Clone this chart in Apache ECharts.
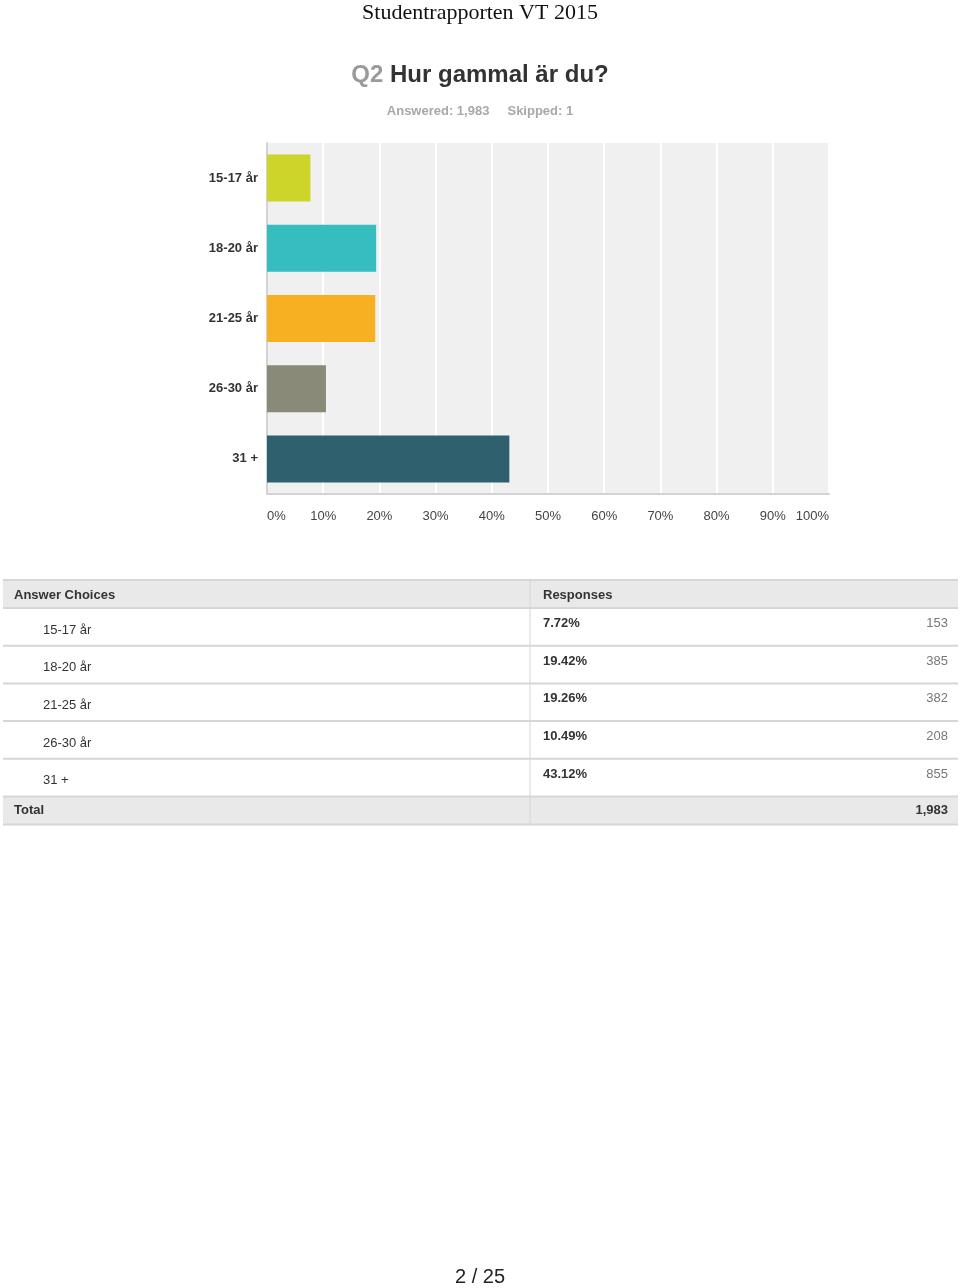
<!DOCTYPE html>
<html>
<head>
<meta charset="utf-8">
<script src="https://cdn.jsdelivr.net/npm/echarts@6/dist/echarts.min.js"></script>
<style>
html,body{margin:0;padding:0;background:#fff;}
#c{width:960px;height:1288px;}
</style>
</head>
<body>
<div id="c"></div>
<script>
const categories = ['15-17 år', '18-20 år', '21-25 år', '26-30 år', '31 +'];
const percents = [7.72, 19.42, 19.26, 10.49, 43.12];
const counts = [153, 385, 382, 208, 855];
const barColors = ['#cdd42a', '#35bdbf', '#f7b022', '#8a8a78', '#2e606e'];
const totalCount = '1,983';
const answered = '1,983';
const skipped = '1';
const xTicks = [0, 10, 20, 30, 40, 50, 60, 70, 80, 90, 100];

const FONT = '"Liberation Sans", Arial, sans-serif';
const chart = echarts.init(document.getElementById('c'));

const graphic = [];
// page header
graphic.push({type:'text', left:'center', top:2, style:{text:'Studentrapporten VT 2015', font:'22px "Liberation Serif", "Times New Roman", serif', fill:'#111'}});
// question title
graphic.push({type:'text', left:'center', top:63, style:{
  text:'{q|Q2}  {t|Hur gammal är du?}',
  rich:{q:{fontSize:24, fontWeight:'bold', fill:'#9a9a9a', fontFamily:FONT}, t:{fontSize:24, fontWeight:'bold', fill:'#333', fontFamily:FONT}}
}});
graphic.push({type:'text', left:'center', top:105, style:{text:'Answered: ' + answered + '     Skipped: ' + skipped, font:'bold 13px ' + FONT, fill:'#a8a8a8'}});

// table
const tL = 3, tR = 958, tMid = 530;
const headTop = 580, headH = 28, rowH = 37.7;
graphic.push({type:'rect', shape:{x:tL, y:headTop, width:tR-tL, height:headH}, style:{fill:'#e9e9e9'}, z:1});
const rowsTop = headTop + headH;
const totalTop = rowsTop + rowH * categories.length;
graphic.push({type:'rect', shape:{x:tL, y:totalTop, width:tR-tL, height:headH}, style:{fill:'#e9e9e9'}, z:1});
const hLines = [headTop, rowsTop];
for (let i = 1; i <= categories.length; i++) hLines.push(rowsTop + rowH * i);
hLines.push(totalTop + headH);
hLines.forEach(y => graphic.push({type:'line', shape:{x1:tL, y1:y, x2:tR, y2:y}, style:{stroke:'#d6d6d6', lineWidth:2}, z:2}));
graphic.push({type:'line', shape:{x1:tMid, y1:headTop, x2:tMid, y2:totalTop+headH}, style:{stroke:'#d6d6d6', lineWidth:1}, z:2});
graphic.push({type:'text', x:14, y:headTop+headH/2+1, style:{text:'Answer Choices', font:'bold 13px ' + FONT, fill:'#333', textVerticalAlign:'middle'}, z:3});
graphic.push({type:'text', x:543, y:headTop+headH/2+1, style:{text:'Responses', font:'bold 13px ' + FONT, fill:'#333', textVerticalAlign:'middle'}, z:3});
categories.forEach((c, i) => {
  const y0 = rowsTop + rowH * i;
  graphic.push({type:'text', x:43, y:y0+22, style:{text:c, font:'13px ' + FONT, fill:'#333', textVerticalAlign:'middle'}, z:3});
  graphic.push({type:'text', x:543, y:y0+15.5, style:{text:percents[i].toFixed(2) + '%', font:'bold 13px ' + FONT, fill:'#333', textVerticalAlign:'middle'}, z:3});
  graphic.push({type:'text', x:948, y:y0+15.5, style:{text:String(counts[i]), font:'13px ' + FONT, fill:'#777', textAlign:'right', textVerticalAlign:'middle'}, z:3});
});
graphic.push({type:'text', x:14, y:totalTop+headH/2, style:{text:'Total', font:'bold 13px ' + FONT, fill:'#333', textVerticalAlign:'middle'}, z:3});
graphic.push({type:'text', x:948, y:totalTop+headH/2, style:{text:totalCount, font:'bold 13px ' + FONT, fill:'#333', textAlign:'right', textVerticalAlign:'middle'}, z:3});
// page number
graphic.push({type:'text', left:'center', top:1267, style:{text:'2 / 25', font:'20px ' + FONT, fill:'#222'}});

chart.setOption({
  animation:false,
  backgroundColor:'#fff',
  textStyle:{fontFamily:FONT},
  grid:{left:267, width:562, top:143, height:351, show:true, backgroundColor:'#f0f0f0', borderWidth:0, containLabel:false},
  xAxis:{
    type:'value', min:xTicks[0], max:xTicks[xTicks.length-1], interval:10,
    axisLine:{show:true, onZero:false, lineStyle:{color:'#d3d3d3', width:2}},
    axisTick:{show:false},
    splitLine:{show:true, lineStyle:{color:'#ffffff', width:2}},
    axisLabel:{formatter:'{value}%', color:'#444', fontSize:13, margin:16, alignMinLabel:'left', alignMaxLabel:'right', fontFamily:FONT}
  },
  yAxis:{
    type:'category', data:categories, inverse:true,
    axisLine:{show:true, lineStyle:{color:'#d3d3d3', width:2}},
    axisTick:{show:false},
    splitLine:{show:false},
    axisLabel:{color:'#333', fontSize:13, fontWeight:'bold', margin:9, fontFamily:FONT}
  },
  series:[{
    type:'bar',
    data:percents.map((v, i) => ({value:v, itemStyle:{color:barColors[i]}})),
    barWidth:47,
    z:3
  }],
  graphic:graphic
});
</script>
</body>
</html>
